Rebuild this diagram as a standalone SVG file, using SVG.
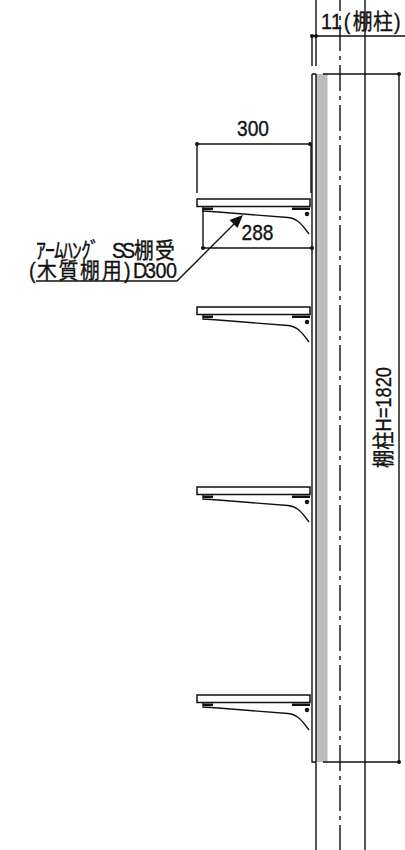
<svg xmlns="http://www.w3.org/2000/svg" width="405" height="850" viewBox="0 0 405 850">
<style>
.l{fill:none;stroke:#111;stroke-width:1.4}
.t{font-family:"Liberation Sans","Noto Sans CJK JP",sans-serif;fill:#111;stroke:#111;stroke-width:.35;font-size:22px}
.s{fill:#fff;stroke:#111;stroke-width:1.5}
.d{fill:#111;stroke:none}
</style>
<defs>
<g id="shelf">
<rect class="s" x="197" y="0" width="113" height="7.500"/>
<path class="l" d="M203 8V12L215 12.800 288 18.500C297 19.500 301 24 309 35"/>
<path d="M203 8.500H213V11H203ZM292 8.500H310V11H292Z" class="d"/>
<circle class="d" cx="307" cy="15" r="2.200"/>
</g>
</defs>
<g id="post">
<rect x="316" y="74" width="11.500" height="688" fill="#bdbdbd"/>
<path class="l" d="M316 0V66M316 74V850M365 0V850M312 36V66M312 74V762H316M312 74H316M323 74H399V762M323 762H399M312 36H405"/>
<path class="l" stroke-dasharray="26 5 4 5" d="M340 -15V850"/>
</g>
<g id="shelf-1"><use href="#shelf" y="199"/></g>
<g id="shelf-2"><use href="#shelf" y="307"/></g>
<g id="shelf-3"><use href="#shelf" y="487"/></g>
<g id="shelf-4"><use href="#shelf" y="695"/></g>
<g id="connectors">
<path class="l" d="M197 144H311M197 144V193M311 144V193M203 208V248H312M36 281H177L235 223"/>
<path class="d" d="M243 215L237.500 228 229.500 220Z"/>
<g class="d">
<circle cx="197" cy="144" r="2"/><circle cx="310" cy="144" r="2"/>
<circle cx="203" cy="248" r="2"/><circle cx="312" cy="248" r="2"/>
<circle cx="312" cy="36" r="2"/><circle cx="316" cy="36" r="2"/>
<circle cx="399" cy="74" r="2"/><circle cx="399" cy="762" r="2"/>
</g>
</g>
<g id="labels">
<text class="t" x="237" y="136" textLength="32" lengthAdjust="spacingAndGlyphs">300</text>
<text class="t" x="241.500" y="240" textLength="32" lengthAdjust="spacingAndGlyphs">288</text>
<text class="t" transform="scale(.9 1)" x="356.700 367.700 382 392 414.400 437.800" y="29">11(棚柱)</text>
<text class="t" transform="scale(.9 1)" x="40 50 60 70 80 90 100 119 124.400 135.600 148.900 172.200" y="258">ｱｰﾑﾊﾝｸﾞ SS棚受</text>
<text class="t" transform="scale(.9 1)" x="32.200 41.100 65 88.900 113.300 137.800 147.800 161.100 172.800 184.400" y="278">(木質棚用)D300</text>
<text class="t" transform="translate(391 468) rotate(-90)" textLength="101" lengthAdjust="spacingAndGlyphs">棚柱H=1820</text>
</g>
</svg>
